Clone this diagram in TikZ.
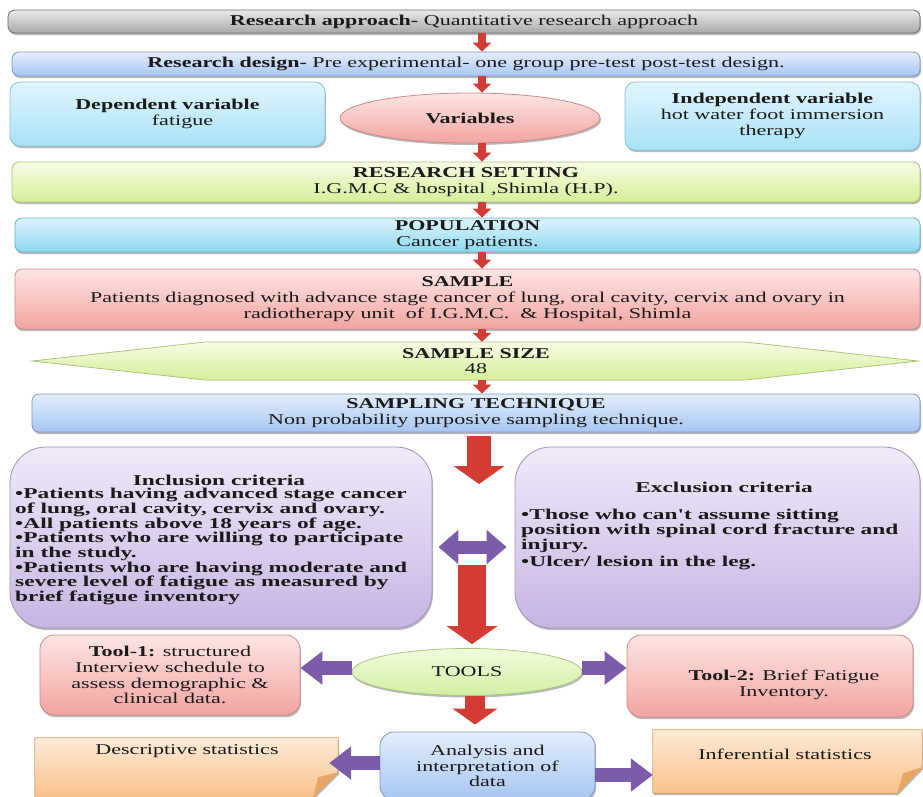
\documentclass[tikz,border=0pt]{standalone}
\usepackage{fontspec}
\setmainfont{Liberation Serif}[FakeStretch=1.47]
\newfontfamily\widefont{Liberation Serif}[FakeStretch=1.56]
\usetikzlibrary{arrows.meta,shadows,shapes.geometric}
\definecolor{grayT}{HTML}{EAEAEA}\definecolor{grayB}{HTML}{A9A9A9}\definecolor{grayD}{HTML}{6E6E6E}
\definecolor{blueT}{HTML}{E4EEFD}\definecolor{blueB}{HTML}{A7C5F1}\definecolor{blueD}{HTML}{7D99C9}
\definecolor{cyanT}{HTML}{E2F6FD}\definecolor{cyanB}{HTML}{A9E1F6}\definecolor{cyanD}{HTML}{86C3DD}
\definecolor{pinkT}{HTML}{FDE6E4}\definecolor{pinkB}{HTML}{F2A4A1}\definecolor{pinkD}{HTML}{CF8987}
\definecolor{limeT}{HTML}{F7FCE4}\definecolor{limeB}{HTML}{D5EF98}\definecolor{limeD}{HTML}{AEC47E}
\definecolor{popT}{HTML}{DCF5FC}\definecolor{popB}{HTML}{8ED7F0}\definecolor{popD}{HTML}{69B1CF}
\definecolor{lavT}{HTML}{F0EAF9}\definecolor{lavB}{HTML}{C7B5E3}\definecolor{lavD}{HTML}{A395C3}
\definecolor{oraT}{HTML}{FDEBD8}\definecolor{oraB}{HTML}{F9C18B}\definecolor{oraD}{HTML}{DDA46C}
\definecolor{oraF}{HTML}{E9A565}
\definecolor{grnT}{HTML}{F1FBDD}\definecolor{grnB}{HTML}{D2EFA4}\definecolor{grnD}{HTML}{A9C77C}
\definecolor{redA}{HTML}{D33B35}\definecolor{purA}{HTML}{7A5CA8}\definecolor{txt}{HTML}{1A1A1A}
\begin{document}
\begin{tikzpicture}[x=1pt,y=-1pt,
  every node/.style={font=\fontsize{15}{15.8}\selectfont, text=txt, inner sep=0pt, align=center},
  sh/.style={drop shadow={shadow xshift=1pt,shadow yshift=-2pt,opacity=0.28,fill=black}},
  bar/.style={draw, rounded corners=7pt, line width=0.8pt, sh},
  rbox/.style={draw, rounded corners=#1, line width=0.8pt, sh},
  cgray/.style={top color=grayT, bottom color=grayB, draw=grayD},
  cblue/.style={top color=blueT, bottom color=blueB, draw=blueD},
  ccyan/.style={top color=cyanT, bottom color=cyanB, draw=cyanD},
  cpink/.style={top color=pinkT, bottom color=pinkB, draw=pinkD},
  clime/.style={top color=limeT, bottom color=limeB, draw=limeD},
  cpop/.style={top color=popT, bottom color=popB, draw=popD},
  clav/.style={top color=lavT, bottom color=lavB, draw=lavD},
  cora/.style={top color=oraT, bottom color=oraB, draw=oraD},
  cgrn/.style={top color=grnT, bottom color=grnB, draw=grnD},
  redarr/.style={draw=redA, line width=8pt, -{Triangle[width=18pt,length=9pt]}},
  bigred/.style={draw=redA, line width=#1, -{Triangle[width=50pt,length=18pt]}},
  midred/.style={draw=redA, line width=20pt, -{Triangle[width=44pt,length=16pt]}},
  purarr/.style={draw=purA, line width=14pt, -{Triangle[width=32pt,length=22pt]}},
  purdbl/.style={draw=purA, line width=13pt, {Triangle[width=33pt,length=20pt]}-{Triangle[width=33pt,length=20pt]}},
  crit/.style={font=\widefont\bfseries\fontsize{15}{14.7}\selectfont, align=left}
]
\useasboundingbox (0,0) rectangle (923,796);
\fill[white] (0,0) rectangle (923,796);
\begin{scope}
\clip (0,0) rectangle (923,796);
% ---- top bars
\node[bar, cgray, minimum width=912pt, minimum height=23pt] (approach) at (464,21.5)
  {\textbf{Research approach-} Quantitative research approach};
\node[bar, cblue, minimum width=908pt, minimum height=24pt] (design) at (466,64)
  {\textbf{Research design-} Pre experimental- one group pre-test post-test design.};
% ---- variables row
\node[rbox=10pt, ccyan, minimum width=315pt, minimum height=64pt] (dep) at (167.5,114)
  {\textbf{Dependent variable}\\\hspace*{2em}fatigue};
\node[ellipse, draw, line width=0.8pt, sh, cpink, minimum width=260pt, minimum height=50pt] (vars) at (470,118)
  {\textbf{Variables}};
\node[rbox=10pt, ccyan, minimum width=295pt, minimum height=68pt] (indep) at (772.5,116)
  {\textbf{Independent variable}\\hot water foot immersion\\therapy};
% ---- main flow
\node[bar, clime, minimum width=908pt, minimum height=40pt] (setting) at (466,182)
  {\textbf{RESEARCH SETTING}\\I.G.M.C \& hospital ,Shimla (H.P).};
\node[bar, cpop, minimum width=905pt, minimum height=34pt] (pop) at (467.5,235)
  {\textbf{POPULATION}\\Cancer patients.};
\node[bar, cpink, minimum width=905pt, minimum height=60pt] (sample) at (467.5,299)
  {\textbf{SAMPLE}\\Patients diagnosed with advance stage cancer of lung, oral cavity, cervix and ovary in\\radiotherapy unit\ \ of\ I.G.M.C.\ \ \& Hospital, Shimla};
\shade[clime, line width=0.8pt] (32,361) -- (205,342) -- (745,342) -- (918,361) -- (745,380) -- (205,380) -- cycle;
\node[minimum width=886pt, minimum height=38pt] (size) at (476,361)
  {\textbf{SAMPLE SIZE}\\48};
\node[bar, cblue, minimum width=888pt, minimum height=38pt] (tech) at (476,413)
  {\textbf{SAMPLING TECHNIQUE}\\Non probability purposive sampling technique.};
% ---- criteria
\node[rbox=36pt, clav, minimum width=422pt, minimum height=181pt] (incl) at (221,537.5) {};
\node[font=\widefont\bfseries\fontsize{15}{14.7}\selectfont] (inclH) at (219,480) {Inclusion criteria};
\node[crit, anchor=north west] (inclB) at (15,488)
  {•Patients having advanced stage cancer\\of lung, oral cavity, cervix and ovary.\\•All patients above 18 years\ of age.\\•Patients who are willing to participate\\in the study.\\•Patients who are having moderate and\\severe level of fatigue as measured by\\brief fatigue inventory};
\node[rbox=36pt, clav, minimum width=405pt, minimum height=181pt] (excl) at (717.5,537.5) {};
\node[font=\widefont\bfseries\fontsize{15}{14.7}\selectfont] (exclH) at (724,487) {Exclusion criteria};
\node[crit, anchor=north west] (exclB) at (521,509)
  {•Those who can't assume sitting\\position with spinal cord fracture and\\injury.\\[3pt]•Ulcer/ lesion in the leg.};
% ---- tools
\node[rbox=14pt, cpink, minimum width=260pt, minimum height=80pt] (tool1) at (170,675)
  {\textbf{Tool-1:} structured\\Interview schedule to\\assess demographic \&\\clinical data.};
\node[ellipse, draw, line width=0.8pt, sh, cgrn, minimum width=230pt, minimum height=47pt] (tools) at (467,672) {TOOLS};
\node[rbox=14pt, cpink, minimum width=286pt, minimum height=82pt] (tool2) at (770,676) {};
\node (tool2T) at (784,685) {\textbf{Tool-2:} Brief Fatigue\\Inventory.};
% ---- analysis row
\node[rbox=14pt, cblue, minimum width=215pt, minimum height=68pt] (analysis) at (487.5,766)
  {Analysis and\\interpretation of\\data};
\node[minimum width=303pt, minimum height=59pt] (desc) at (186.5,767.5) {};
\shade[cora, line width=0.8pt, sh] (desc.north west) -- (desc.north east) -- ([yshift=25pt]desc.south east)
  -- ([xshift=-25pt]desc.south east) -- (desc.south west) -- cycle;
\fill[oraF] ([yshift=25pt]desc.south east) -- ([xshift=-25pt]desc.south east) -- ([xshift=-20pt,yshift=20pt]desc.south east) -- cycle;
\node (descT) at (187,751) {Descriptive statistics};
\node[minimum width=269pt, minimum height=63pt] (infer) at (787.5,761.5) {};
\shade[cora, line width=0.8pt, sh] (infer.north west) -- (infer.north east) -- ([yshift=26pt]infer.south east)
  -- ([xshift=-25pt]infer.south east) -- (infer.south west) -- cycle;
\fill[oraF] ([yshift=26pt]infer.south east) -- ([xshift=-25pt]infer.south east) -- ([xshift=-19pt,yshift=20pt]infer.south east) -- cycle;
\node (inferT) at (785,754) {Inferential statistics};
% ---- connectors
\coordinate (ax) at (482,0);
\draw[redarr] (approach.south -| ax) -- (design.north -| ax);
\draw[redarr] (design.south -| ax) -- (vars.north -| ax);
\draw[redarr] (vars.south -| ax) -- (setting.north -| ax);
\draw[redarr] (setting.south -| ax) -- (pop.north -| ax);
\draw[redarr] (pop.south -| ax) -- (sample.north -| ax);
\draw[redarr] (sample.south -| ax) -- (size.north -| ax);
\draw[redarr] (size.south -| ax) -- (tech.north -| ax);
\coordinate (critTop) at (479,484);
\draw[bigred=24pt, shorten <=4pt] (tech.south -| critTop) -- (critTop);
\coordinate (critBot) at (472,565);
\draw[bigred=28pt, shorten >=4pt] (critBot) -- (tools.north -| critBot);
\draw[purdbl, shorten <=6pt, shorten >=8pt] ([yshift=-9.5pt]incl.east) -- ([yshift=-9.5pt]excl.west);
\coordinate (tx) at (475,0);
\draw[midred, shorten >=7pt] (tools.south -| tx) -- (analysis.north -| tx);
\draw[purarr] ([yshift=4pt]tools.west) -- ([yshift=4pt]tools.west -| tool1.east);
\draw[purarr] ([yshift=4pt]tools.east) -- ([yshift=4pt]tools.east -| tool2.west);
\draw[purarr, shorten >=-9pt] ([yshift=3pt]analysis.west) -- ([yshift=3pt]analysis.west -| desc.east);
\draw[purarr] ([yshift=-9pt]analysis.east) -- ([yshift=-9pt]analysis.east -| infer.west);
\end{scope}
\end{tikzpicture}
\end{document}
